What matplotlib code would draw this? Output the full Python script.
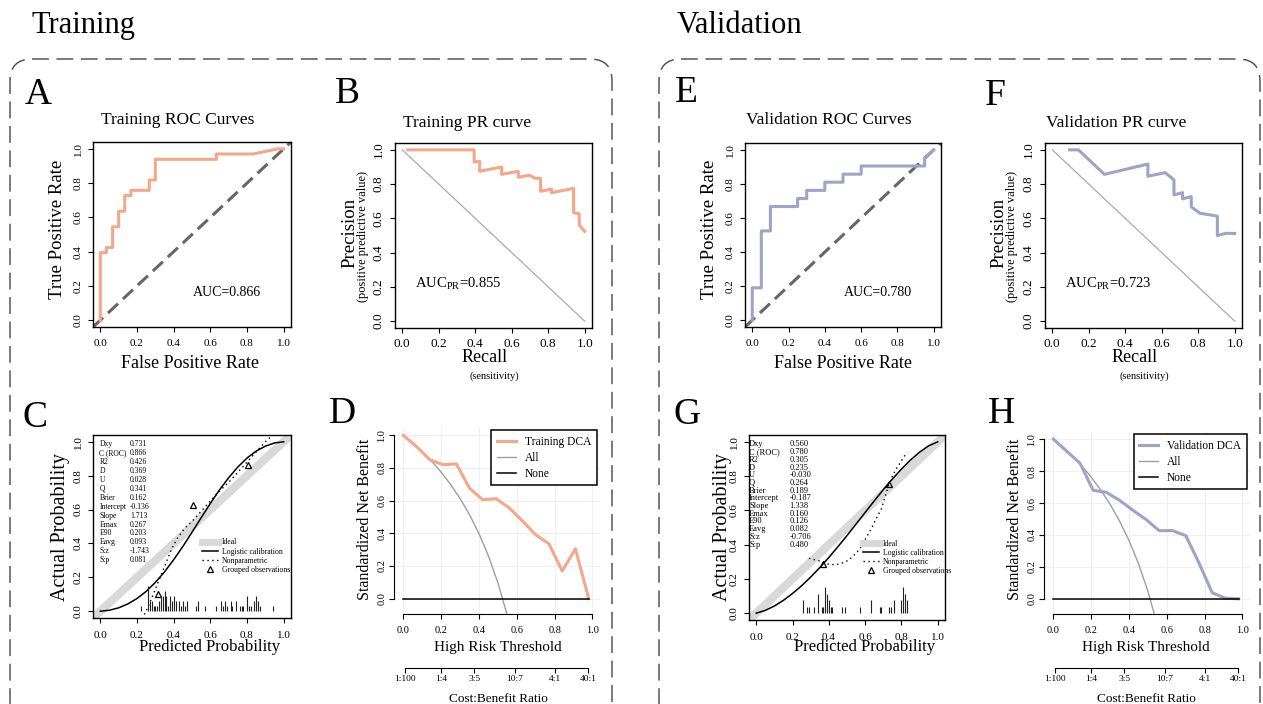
import matplotlib
matplotlib.use("Agg")
import matplotlib.pyplot as plt
from matplotlib.patches import FancyBboxPatch
from matplotlib.lines import Line2D

plt.rcParams['font.family'] = ['Liberation Serif', 'DejaVu Serif']
plt.rcParams['mathtext.fontset'] = 'custom'
plt.rcParams['mathtext.rm'] = 'Liberation Serif'

W, H = 1263, 704
C_TRAIN = '#F4A78A'
C_VALID = '#9CA4C8'

# ---------------- ROC ----------------
train_fpr = [0, 0, 0.033, 0.033, 0.067, 0.067, 0.1, 0.1, 0.133, 0.133, 0.167, 0.167,
             0.267, 0.267, 0.3, 0.3, 0.633, 0.633, 0.833, 0.967, 1.0]
train_tpr = [0, 0.394, 0.394, 0.424, 0.424, 0.545, 0.545, 0.636, 0.636, 0.727, 0.727, 0.758,
             0.758, 0.818, 0.818, 0.939, 0.939, 0.970, 0.970, 1.0, 1.0]
valid_fpr = [0, 0, 0.05, 0.05, 0.1, 0.1, 0.25, 0.25, 0.3, 0.3, 0.4, 0.4, 0.5, 0.5,
             0.6, 0.6, 0.95, 0.95, 1.0]
valid_tpr = [0, 0.19, 0.19, 0.524, 0.524, 0.667, 0.667, 0.714, 0.714, 0.762, 0.762, 0.81,
             0.81, 0.857, 0.857, 0.905, 0.905, 0.952, 1.0]
train_auc = "0.866"
valid_auc = "0.780"

# ---------------- PR ----------------
train_recall = [0.03, 0.394, 0.394, 0.424, 0.424, 0.545, 0.545, 0.636, 0.636, 0.697,
                0.727, 0.758, 0.758, 0.818, 0.818, 0.939, 0.939, 0.970, 0.970, 1.0]
train_precision = [1.0, 1.0, 0.929, 0.933, 0.875, 0.9, 0.857, 0.875, 0.84, 0.852,
                   0.835, 0.833, 0.758, 0.771, 0.75, 0.775, 0.633, 0.627, 0.561, 0.524]
valid_recall = [0.095, 0.143, 0.286, 0.524, 0.524, 0.619, 0.667, 0.667, 0.714, 0.714,
                0.762, 0.762, 0.81, 0.905, 0.905, 0.952, 1.0]
valid_precision = [1.0, 1.0, 0.857, 0.917, 0.846, 0.867, 0.824, 0.737, 0.75, 0.714,
                   0.727, 0.667, 0.63, 0.613, 0.5, 0.513, 0.512]
train_auc_pr = "0.855"
valid_auc_pr = "0.723"

# ---------------- calibration ----------------
cal_x = [0, 0.05, 0.1, 0.15, 0.2, 0.25, 0.3, 0.35, 0.4, 0.45, 0.5,
         0.55, 0.6, 0.65, 0.7, 0.75, 0.8, 0.85, 0.9, 0.95, 1.0]
train_logistic = [0.0, 0.006, 0.020, 0.043, 0.075, 0.117, 0.170, 0.232, 0.304, 0.382, 0.466,
                  0.552, 0.636, 0.716, 0.788, 0.851, 0.904, 0.945, 0.974, 0.993, 1.0]
valid_logistic = [0.0, 0.016, 0.042, 0.075, 0.115, 0.160, 0.211, 0.266, 0.325, 0.388, 0.453,
                  0.520, 0.588, 0.655, 0.721, 0.783, 0.841, 0.894, 0.940, 0.977, 1.0]
train_np_x = [0.24, 0.27, 0.30, 0.33, 0.36, 0.39, 0.42, 0.46, 0.50, 0.55, 0.60, 0.65,
              0.70, 0.75, 0.80, 0.85, 0.90, 0.93]
train_np_y = [-0.02, 0.05, 0.13, 0.21, 0.29, 0.37, 0.43, 0.49, 0.53, 0.59, 0.65, 0.71,
              0.76, 0.82, 0.88, 0.94, 1.00, 1.03]
valid_np_x = [0.29, 0.33, 0.365, 0.40, 0.44, 0.48, 0.51, 0.54, 0.57, 0.60, 0.635, 0.66,
              0.69, 0.71, 0.73, 0.75, 0.77, 0.80, 0.83]
valid_np_y = [0.32, 0.31, 0.30, 0.285, 0.283, 0.295, 0.31, 0.34, 0.375, 0.43, 0.495, 0.55,
              0.61, 0.68, 0.75, 0.80, 0.84, 0.89, 0.94]
train_grp_x = [0.314, 0.505, 0.808]
train_grp_y = [0.10, 0.624, 0.863]
valid_grp_x = [0.365, 0.729]
valid_grp_y = [0.289, 0.752]
train_spike_x = [0.22, 0.26, 0.27, 0.28, 0.29, 0.30, 0.31, 0.32, 0.33, 0.34, 0.35, 0.36,
                 0.37, 0.38, 0.39, 0.40, 0.41, 0.43, 0.44, 0.45, 0.46, 0.47, 0.52, 0.53,
                 0.57, 0.63, 0.66, 0.67, 0.68, 0.69, 0.71, 0.72, 0.74, 0.76, 0.77, 0.78,
                 0.80, 0.81, 0.82, 0.84, 0.85, 0.86, 0.87, 0.94]
train_spike_n = [1, 5, 2, 2, 1, 1, 1, 2, 3, 3, 4, 3, 1, 3, 2, 3, 2, 2, 1, 2, 1, 2, 1, 2,
                 1, 1, 2, 1, 2, 1, 2, 1, 2, 1, 1, 1, 3, 1, 1, 2, 3, 2, 1, 1]
valid_spike_x = [0.26, 0.28, 0.29, 0.32, 0.34, 0.36, 0.37, 0.38, 0.39, 0.40, 0.41, 0.42,
                 0.47, 0.49, 0.57, 0.63, 0.68, 0.69, 0.73, 0.74, 0.76, 0.80, 0.81, 0.82, 0.83]
valid_spike_n = [2, 1, 1, 1, 3, 1, 1, 4, 3, 2, 1, 1, 1, 1, 1, 2, 1, 1, 1, 1, 2, 2, 4, 3, 2]
stat_names = ["Dxy", "C (ROC)", "R2", "D", "U", "Q", "Brier", "Intercept", "Slope",
              "Emax", "E90", "Eavg", "S:z", "S:p"]
train_stats = ["0.731", "0.866", "0.426", "0.369", "0.028", "0.341", "0.162", "-0.136",
               "1.713", "0.267", "0.203", "0.093", "-1.743", "0.081"]
valid_stats = ["0.560", "0.780", "0.305", "0.235", "-0.030", "0.264", "0.189", "-0.187",
               "1.338", "0.160", "0.126", "0.082", "-0.706", "0.480"]

# ---------------- DCA ----------------
dca_thr = [0, 0.07, 0.14, 0.21, 0.28, 0.35, 0.42, 0.49, 0.56, 0.63, 0.70, 0.77, 0.84, 0.91, 0.98]
train_dca = [1.0, 0.93, 0.85, 0.82, 0.825, 0.675, 0.605, 0.612, 0.555, 0.475, 0.39, 0.335,
             0.168, 0.305, 0.0]
valid_dca = [1.0, 0.925, 0.85, 0.68, 0.667, 0.617, 0.555, 0.497, 0.427, 0.427, 0.396, 0.225,
             0.038, 0.004, 0.0]
all_thr = [0, 0.05, 0.1, 0.15, 0.2, 0.25, 0.3, 0.35, 0.4, 0.45, 0.5, 0.55]
train_all = [1.0, 0.952, 0.90, 0.84, 0.774, 0.698, 0.612, 0.513, 0.397, 0.26, 0.095, -0.106]
valid_all = [1.0, 0.95, 0.894, 0.832, 0.762, 0.682, 0.592, 0.487, 0.365, 0.22, 0.047, -0.165]
cost_labels = ["1:100", "1:4", "3:5", "10:7", "4:1", "40:1"]

ticks = [0, 0.2, 0.4, 0.6, 0.8, 1.0]
tick_lbl = ["0.0", "0.2", "0.4", "0.6", "0.8", "1.0"]

fig = plt.figure(figsize=(12.63, 7.04), dpi=100)
bg = fig.add_axes([0, 0, 1, 1])
bg.set_xlim(0, W)
bg.set_ylim(H, 0)
bg.axis('off')


def px_axes(x0, y0, x1, y1):
    return fig.add_axes([x0 / W, 1 - y1 / H, (x1 - x0) / W, (y1 - y0) / H])


def box_style(ax, fs):
    ax.set_xlim(-0.04, 1.04)
    ax.set_ylim(-0.04, 1.04)
    ax.set_xticks(ticks, tick_lbl, fontsize=fs)
    ax.set_yticks(ticks, tick_lbl, fontsize=fs, rotation=90, va='center')
    ax.tick_params(direction='out', length=3.5, width=0.8)
    ax.tick_params(axis='x', pad=5.5)
    ax.tick_params(axis='y', pad=4)
    for s in ax.spines.values():
        s.set_linewidth(1.0)


# frames and headers
for x0, x1 in [(10, 612), (659, 1260)]:
    bg.add_patch(FancyBboxPatch((x0, 59), x1 - x0, 700, boxstyle="round,pad=0,rounding_size=22",
                                fill=False, ec='#555555', lw=1.1, ls=(0, (11, 5))))
bg.text(32, 33, "Training", fontsize=22, va='baseline')
bg.text(677, 33, "Validation", fontsize=22, va='baseline')
for s, x, y in [("A", 38, 95), ("B", 347, 94), ("C", 35, 418), ("D", 342, 414),
                ("E", 686, 93), ("F", 995, 96), ("G", 687, 415), ("H", 1001, 414)]:
    bg.text(x, y, s, fontsize=27, ha='center', va='center')


def roc_panel(rect, fpr, tpr, color, auc, title, tx, lab_x, ylab_x):
    ax = px_axes(*rect)
    ax.plot([-0.04, 1.04], [-0.04, 1.04], color='#666666', lw=2.2, ls=(0, (4.5, 2.2)))
    ax.plot(fpr, tpr, color=color, lw=2.2)
    ax.text(0.69, 0.16, "AUC=" + auc, fontsize=10, ha='center', va='center')
    box_style(ax, 8)
    bg.text(tx, 120, title, fontsize=12.5, ha='center', va='center')
    bg.text(lab_x, 363, "False Positive Rate", fontsize=13, ha='center', va='center')
    bg.text(ylab_x, 229, "True Positive Rate", fontsize=13.5, ha='center', va='center',
            rotation=90)


def pr_panel(rect, rec, prec, color, auc, title, tx, lab_x, ylab_x):
    ax = px_axes(*rect)
    ax.plot([0, 1], [1, 0], color='#AAAAAA', lw=0.9)
    ax.plot(rec, prec, color=color, lw=2.2)
    ax.text(0.07, 0.22, "AUC$_{\\rm PR}$=" + auc, fontsize=10.5, ha='left', va='center')
    box_style(ax, 9.5)
    ax.tick_params(axis='x', pad=4)
    bg.text(tx, 123, title, fontsize=12.5, ha='center', va='center')
    bg.text(lab_x, 358, "Recall", fontsize=13, ha='center', va='center')
    bg.text(lab_x + 9, 376, "(sensitivity)", fontsize=7.5, ha='center', va='center')
    bg.text(ylab_x, 233, "Precision", fontsize=13.5, ha='center', va='center', rotation=90)
    bg.text(ylab_x + 13, 236, "(positive predictive value)", fontsize=9, ha='center',
            va='center', rotation=90)


def cal_panel(rect, logi, npx, npy, gx, gy, sx, sn, stats, st_x, st_v, st_fs, st_ls, leg_x,
              lab_x, ylab_x):
    ax = px_axes(*rect)
    ax.plot([-0.06, 1.06], [-0.06, 1.06], color='#D9D9D9', lw=6, solid_capstyle='butt')
    ax.plot(cal_x, logi, color='black', lw=1.1)
    ax.plot(npx, npy, color='black', lw=1.0, ls=(0, (1, 2.5)))
    ax.plot(gx, gy, ls='none', marker='^', ms=5, mfc='none', mec='black', mew=0.9)
    mx = max(sn)
    ax.vlines(sx, 0, [0.15 * n / mx for n in sn], color='#222222', lw=0.8)
    ax.text(st_x, 1.008, "\n".join(stat_names), fontsize=st_fs, va='top', ha='left',
            linespacing=st_ls)
    ax.text(st_v, 1.008, "\n".join(stats), fontsize=st_fs, va='top', ha='left',
            linespacing=st_ls)
    handles = [Line2D([], [], color='#D9D9D9', lw=5),
               Line2D([], [], color='black', lw=1.1),
               Line2D([], [], color='black', lw=1.0, ls=(0, (1, 2.5))),
               Line2D([], [], ls='none', marker='^', ms=4, mfc='none', mec='black', mew=0.9)]
    ax.legend(handles, ["Ideal", "Logistic calibration", "Nonparametric", "Grouped observations"],
              loc='upper left', bbox_to_anchor=(leg_x, 0.435), frameon=False, fontsize=5.6,
              borderpad=0, borderaxespad=0, handlelength=2.0, handletextpad=0.5,
              labelspacing=0.15)
    box_style(ax, 8)
    bg.text(lab_x, 647, "Predicted Probability", fontsize=12, ha='center', va='center')
    bg.text(ylab_x, 527, "Actual Probability", fontsize=14.5, ha='center', va='center',
            rotation=90)


def dca_panel(rect, thr, nb, all_nb, color, name, lab_x, ylab_x):
    x0, y0, x1, y1 = rect
    ax = px_axes(*rect)
    ax.set_xlim(-0.05, 1.04)
    ax.set_ylim(-0.095, 1.045)
    ax.grid(color='#EFEFEF', lw=0.8)
    ax.set_axisbelow(True)
    h_all, = ax.plot(all_thr, all_nb, color='#9E9E9E', lw=1.0)
    h_mod, = ax.plot(thr, nb, color=color, lw=2.2)
    h_none, = ax.plot([thr[0], thr[-1]], [0, 0], color='black', lw=1.1)
    ax.legend([h_mod, h_all, h_none], [name, "All", "None"], loc='upper right',
              bbox_to_anchor=(0.985, 0.99), fontsize=8.3, fancybox=False, framealpha=1,
              edgecolor='black', handlelength=1.6, handletextpad=0.8, labelspacing=0.35,
              borderpad=0.5, borderaxespad=0).get_frame().set_linewidth(1.1)
    for s in ['top', 'right']:
        ax.spines[s].set_visible(False)
    ax.spines['left'].set_bounds(0, 1)
    ax.spines['bottom'].set_bounds(0, 1)
    ax.set_xticks(ticks, tick_lbl, fontsize=7.5)
    ax.set_yticks(ticks, tick_lbl, fontsize=7.5, rotation=90, va='center')
    ax.tick_params(direction='out', length=3.5, width=0.8)
    ax.tick_params(axis='x', pad=5)
    ax.tick_params(axis='y', pad=2)
    # cost:benefit axis
    cost_pos = [int(a) / (int(a) + int(b)) for a, b in (c.split(":") for c in cost_labels)]
    cax = px_axes(x0, 667, x1, 668)
    cax.set_xlim(-0.05, 1.04)
    cax.patch.set_visible(False)
    for s in ['top', 'right', 'left']:
        cax.spines[s].set_visible(False)
    cax.spines['bottom'].set_bounds(cost_pos[0], cost_pos[-1])
    cax.set_yticks([])
    cax.set_xticks(cost_pos, cost_labels, fontsize=6.8)
    cax.tick_params(direction='out', length=3.5, width=0.8, pad=1.5)
    bg.text(lab_x, 648, "High Risk Threshold", fontsize=11, ha='center', va='center')
    bg.text(lab_x, 699, "Cost:Benefit Ratio", fontsize=9.5, ha='center', va='center')
    bg.text(ylab_x, 519, "Standardized Net Benefit", fontsize=11.5, ha='center', va='center',
            rotation=90)


roc_panel((93, 142, 291, 327), train_fpr, train_tpr, C_TRAIN, train_auc,
          "Training ROC Curves", 178, 190, 57)
roc_panel((745, 143, 941, 327), valid_fpr, valid_tpr, C_VALID, valid_auc,
          "Validation ROC Curves", 829, 843, 710)
pr_panel((395, 143, 592, 328), train_recall, train_precision, C_TRAIN, train_auc_pr,
         "Training PR curve", 467, 485, 350)
pr_panel((1045, 143, 1242, 328), valid_recall, valid_precision, C_VALID, valid_auc_pr,
         "Validation PR curve", 1116, 1135, 999)
cal_panel((93, 435, 291, 618), train_logistic, train_np_x, train_np_y, train_grp_x,
          train_grp_y, train_spike_x, train_spike_n, train_stats, -0.005, 0.163, 5.5, 1.15,
          0.552, 210, 61)
cal_panel((749, 435, 945, 620), valid_logistic, valid_np_x, valid_np_y, valid_grp_x,
          valid_grp_y, valid_spike_x, valid_spike_n, valid_stats, -0.04, 0.184, 6.0, 0.95,
          0.583, 865, 722)
dca_panel((394, 428, 600, 614), dca_thr, train_dca, train_all, C_TRAIN, "Training DCA", 498, 365)
dca_panel((1044, 432, 1250, 614), dca_thr, valid_dca, valid_all, C_VALID, "Validation DCA",
          1146, 1015)

fig.savefig("out.png", dpi=100)
